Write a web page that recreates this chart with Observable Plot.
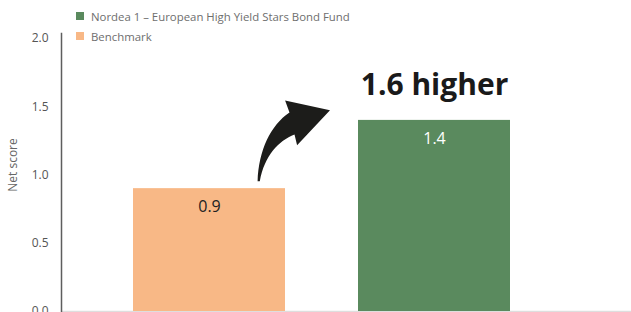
<!DOCTYPE html>
<html><head><meta charset="utf-8">
<script src="https://cdn.jsdelivr.net/npm/d3@7"></script>
<script src="https://cdn.jsdelivr.net/npm/@observablehq/plot@0.6"></script>
<style>
body{margin:0;background:#fff;font-family:"Open Sans",sans-serif;}
#wrap{position:relative;width:631px;height:312px;overflow:hidden;}
#legend{position:absolute;left:76px;top:6px;font-size:11.4px;color:#6e6e6e;}
.item{display:flex;align-items:center;height:20px;white-space:nowrap;}
.sw{width:8px;height:8px;margin-right:7px;flex:none;}
</style></head><body><div id="wrap"><div id="legend"></div></div>
<script>
const categories = ["Benchmark", "Nordea 1 – European High Yield Stars Bond Fund"];
const values = [0.9, 1.4];
const barColors = ["#f8b886", "#5a8a5e"];
const valueLabelColors = ["#222222", "#ffffff"];
const legendOrder = ["Nordea 1 – European High Yield Stars Bond Fund", "Benchmark"];
const yTicks = [0, 0.5, 1.0, 1.5, 2.0];
const yLabel = "Net score";
const annotationText = "1.6 higher";

const data = categories.map((c, i) => ({cat: c, value: values[i], labelColor: valueLabelColors[i]}));

// legend
const legend = document.getElementById("legend");
legendOrder.forEach(name => {
  const i = categories.indexOf(name);
  const row = document.createElement("div");
  row.className = "item";
  const sw = document.createElement("span");
  sw.className = "sw"; sw.style.background = barColors[i];
  const t = document.createElement("span"); t.textContent = name;
  row.appendChild(sw); row.appendChild(t); legend.appendChild(row);
});

// curved arrow annotation, anchored from the benchmark bar to the fund bar
function arrowMark(index, scales) {
  const xs = scales.x, ys = scales.y;
  const bw = xs.bandwidth ? xs.bandwidth() : 0;
  const x0 = xs(categories[0]) + bw * 0.82, y0 = ys(values[0] + 0.05);
  const x1 = xs(categories[1]) - 28, y1 = ys(values[1] + 0.07);
  const W = x1 - x0, H = y0 - y1;
  const P = ([fx, fy]) => `${(x0 + fx * W).toFixed(1)},${(y0 - fy * H).toFixed(1)}`;
  const d = `M${P([0,0])} C${P([0.014,0.437])} ${P([0.178,0.789])} ${P([0.44,0.97])} L${P([0.38,1.14])} L${P([1,1])} L${P([0.545,0.507])} L${P([0.51,0.66])} C${P([0.29,0.57])} ${P([0.096,0.366])} ${P([0.03,0])} Z`;
  const g = d3.create("svg:g");
  g.append("path").attr("d", d).attr("fill", "#1c1c1a");
  return g.node();
}

const chart = Plot.plot({
  width: 631, height: 312,
  marginLeft: 61, marginRight: 0, marginTop: 38, marginBottom: 1,
  style: {fontFamily: "'Open Sans', sans-serif", background: "transparent", overflow: "visible"},
  x: {domain: categories, range: [60, 583], padding: 0.324, axis: null},
  y: {domain: [0, 2], axis: null},
  color: {domain: categories, range: barColors},
  marks: [
    Plot.ruleY([0], {stroke: "#dedede", strokeWidth: 1.5}),
    Plot.barY(data, {x: "cat", y: "value", fill: "cat"}),
    Plot.frame({anchor: "left", stroke: "#5e5e5e", strokeWidth: 1.5, insetTop: -5}),
    Plot.axisY({ticks: yTicks, tickSize: 0, tickPadding: 13, tickFormat: d => d.toFixed(1), fill: "#555", fontSize: 12, label: null}),
    Plot.text([yLabel], {frameAnchor: "left", text: d => d, dx: -48, dy: -10, rotate: -90, textAnchor: "middle", fill: "#666", fontSize: 12}),
    Plot.text(data.filter((d, i) => i === 0), {x: "cat", y: "value", text: d => d.value.toFixed(1), dy: 18, fill: valueLabelColors[0], fontSize: 16}),
    Plot.text(data.filter((d, i) => i === 1), {x: "cat", y: "value", text: d => d.value.toFixed(1), dy: 18, fill: valueLabelColors[1], fontSize: 16}),
    Plot.text(data.filter((d, i) => i === 1), {x: "cat", y: "value", text: () => annotationText, dy: -35, fill: "#1a1a1a", fontSize: 30, fontWeight: "bold"}),
    arrowMark
  ]
});
chart.style.position = "absolute";
chart.style.left = "0"; chart.style.top = "0";
document.getElementById("wrap").insertBefore(chart, legend);
</script>
</body></html>
